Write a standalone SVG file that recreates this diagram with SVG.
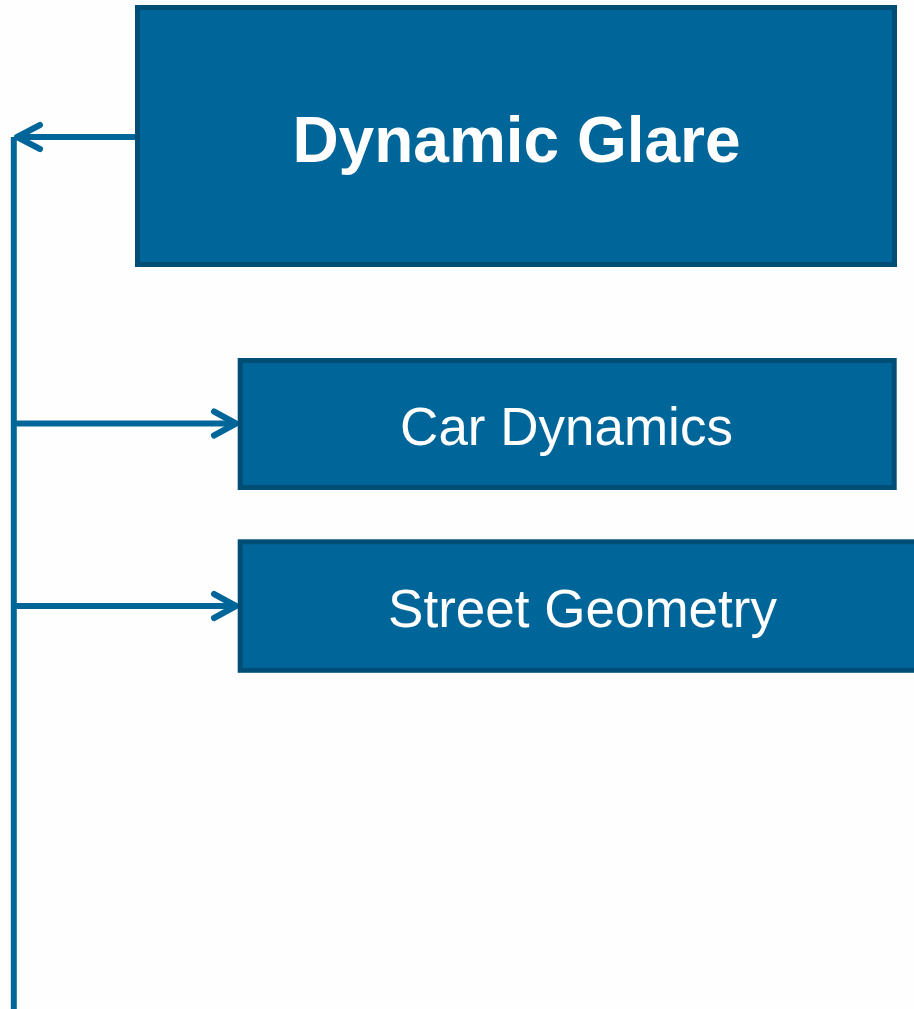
<svg xmlns="http://www.w3.org/2000/svg" width="914" height="1009" viewBox="0 0 914 1009">
<style>
.box{fill:#006699;stroke:#004e75;stroke-width:5;}
.conn{fill:none;stroke:#006699;stroke-width:6;stroke-linecap:butt;}
.head{fill:none;stroke:#006699;stroke-width:6;stroke-linecap:round;stroke-linejoin:round;}
.t{fill:#ffffff;font-family:"Liberation Sans",Arial,sans-serif;text-anchor:middle;}
</style>
<rect width="914" height="1009" fill="#fefefe"/>
<g id="connectors">
<line class="conn" x1="13.8" y1="137" x2="13.8" y2="1009"/>
<line class="conn" x1="136" y1="137" x2="18" y2="137"/>
<polyline class="head" points="40,125 17,137 40,149"/>
<line class="conn" x1="13.8" y1="423.5" x2="235" y2="423.5"/>
<polyline class="head" points="214,411.5 236,423.5 214,435.5"/>
<line class="conn" x1="13.8" y1="606" x2="235" y2="606"/>
<polyline class="head" points="214,594 236,606 214,618"/>
</g>
<g id="dynamic-glare">
<rect class="box" x="137.5" y="7.5" width="757" height="257"/>
<text class="t" x="516.5" y="162" font-size="64" font-weight="bold">Dynamic Glare</text>
</g>
<g id="car-dynamics">
<rect class="box" x="240.2" y="360.5" width="654" height="127"/>
<text class="t" x="566.5" y="445" font-size="53">Car Dynamics</text>
</g>
<g id="street-geometry">
<rect class="box" x="240.2" y="541.8" width="690" height="128.5"/>
<text class="t" x="582.5" y="627" font-size="53">Street Geometry</text>
</g>
</svg>
